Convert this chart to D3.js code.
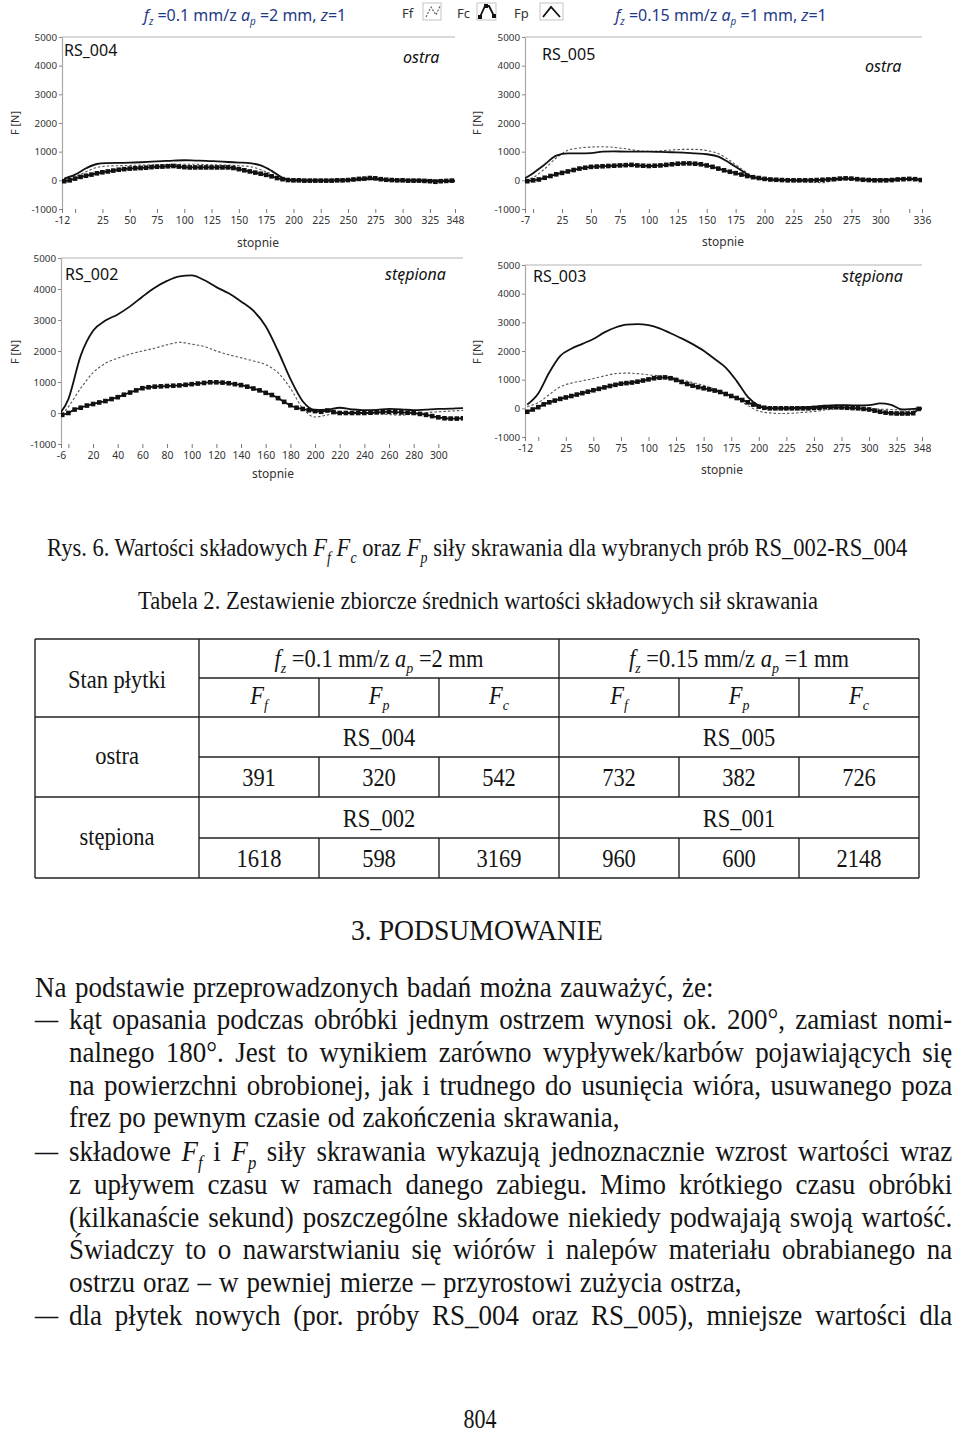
<!DOCTYPE html>
<html>
<head>
<meta charset="utf-8">
<script src="https://cdn.jsdelivr.net/npm/d3@7"></script>
<style>
  body { margin: 0; background: #fff; }
  svg { display: block; }
</style>
</head>
<body>
<div id="page"></div>
<script>
// angle grids (degrees) shared by all four plots
const DEG10 = [-10, 0, 10, 20, 30, 40, 50, 60, 70, 80, 90, 100, 110, 120, 130, 140, 150, 160, 170, 180,
  190, 200, 210, 220, 230, 240, 250, 260, 270, 280, 290, 300, 310, 320, 330, 340, 350];
const DEG5 = [-10, -5, 0, 5, 10, 15, 20, 25, 30, 35, 40, 45, 50, 55, 60, 65, 70, 75, 80, 85,
  90, 95, 100, 105, 110, 115, 120, 125, 130, 135, 140, 145, 150, 155, 160, 165, 170, 175, 180, 185,
  190, 195, 200, 205, 210, 215, 220, 225, 230, 235, 240, 245, 250, 255, 260, 265, 270, 275, 280, 285,
  290, 295, 300, 305, 310, 315, 320, 325, 330, 335, 340, 345, 350];

// RS_004 (ostra, fz 0.1)
const rs004Ff = [20, 120, 300, 450, 500, 510, 520, 530, 540, 550, 560, 560, 560, 550, 540, 530, 510, 480, 370, 220,
  50, 10, 0, 0, -10, 0, 10, 20, 40, 20, 0, 0, 0, -10, -20, -20, -10];
const rs004Fp = [60, 200, 420, 570, 600, 610, 615, 630, 650, 670, 690, 700, 690, 680, 660, 640, 620, 600, 520, 330,
  90, 0, 0, 0, 0, 0, 10, 30, 50, 30, 10, 0, 0, 0, 0, -30, -20];
const rs004Fc = [-30, 0, 60, 120, 160, 200, 245, 280, 310, 340,
  370, 390, 410, 420, 430, 440, 460, 475, 480, 490,
  500, 480, 460, 450, 450, 450, 450, 450, 450, 450,
  450, 430, 390, 350, 310, 270, 230, 190, 140, 80,
  40, 10, 0, 0, -10, -10, -10, -10, -10, -10,
  0, 0, 10, 30, 50, 60, 80, 70, 40, 20,
  10, 0, 0, -10, -10, -10, -20, -30, -50, -30,
  -20, -10, -10];

// RS_005 (ostra, fz 0.15)
const rs005Ff = [0, 100, 400, 780, 1050, 1130, 1160, 1170, 1150, 1100, 1040, 1010, 1030, 1060, 1080, 1080, 1040, 930, 690, 400,
  130, 30, 0, -10, -20, -60, -80, 0, 60, 40, 10, 0, 10, 40, 30, 10, 0];
const rs005Fp = [0, 250, 550, 860, 940, 940, 950, 1000, 1010, 1000, 1000, 1000, 990, 980, 970, 940, 910, 830, 600, 340,
  110, 40, 20, 10, 0, 0, 20, 50, 60, 40, 20, 20, 30, 50, 40, 20, 0];
const rs005Fc = [-40, -30, 0, 30, 90, 150, 210, 260, 310, 360,
  410, 440, 470, 480, 490, 500, 510, 520, 530, 540,
  520, 510, 500, 510, 520, 540, 560, 580, 590, 590,
  580, 560, 520, 470, 410, 350, 300, 250, 200, 150,
  110, 80, 50, 30, 20, 10, 0, 0, 0, 0,
  0, 10, 20, 30, 40, 60, 70, 60, 40, 20,
  10, 0, 0, 0, 10, 30, 40, 50, 40, 10,
  0, 0, 0];

// RS_002 (stępiona, fz 0.1)
const rs002Ff = [-250, 200, 800, 1300, 1600, 1770, 1900, 2000, 2090, 2200, 2280, 2220, 2150, 2000, 1880, 1780, 1680, 1560, 1300, 800,
  150, -130, -60, 20, 10, 0, -20, -50, -70, -30, 10, 40, 60, 80, 80];
const rs002Fp = [-150, 450, 1850, 2650, 2980, 3180, 3440, 3750, 4040, 4260, 4410, 4440, 4290, 4060, 3860, 3600, 3300, 2800, 2000, 1100,
  380, 100, 110, 170, 120, 90, 100, 130, 120, 90, 110, 130, 140, 160, 160];
const rs002Fc = [-150, -60, 0, 110, 170, 240, 290, 340, 385, 450,
  510, 590, 660, 730, 800, 830, 850, 860, 870, 880,
  890, 910, 930, 950, 970, 990, 990, 980, 960, 930,
  900, 850, 790, 730, 650, 580, 480, 360, 250, 170,
  130, 90, 60, 40, 80, 30, 0, 0, 0, 0,
  0, 10, 20, 30, 40, 30, 20, 10, 0, -30,
  -60, -100, -140, -170, -180, -180, -170, -170, -170];

// RS_003 (stępiona, fz 0.15)
const rs003Ff = [60, 200, 480, 750, 880, 960, 1040, 1130, 1210, 1230, 1210, 1170, 1130, 1080, 990, 900, 800, 670, 520, 330,
  100, -100, -160, -180, -170, -140, -110, -60, -20, 0, 0, -10, -30, -40, -60, -60, -40];
const rs003Fp = [130, 520, 1250, 1830, 2080, 2250, 2420, 2650, 2820, 2920, 2940, 2900, 2790, 2620, 2440, 2240, 2010, 1720, 1420, 950,
  400, 100, 10, 0, 10, 30, 60, 90, 110, 110, 100, 110, 170, 120, -40, -20, 0];
const rs003Fc = [-120, -40, 40, 140, 210, 270, 330, 380, 430, 480,
  530, 580, 630, 680, 730, 780, 820, 860, 880, 900,
  930, 970, 1010, 1050, 1070, 1080, 1050, 990, 920, 850,
  790, 740, 700, 660, 620, 570, 500, 430, 360, 290,
  210, 130, 60, 20, 0, 0, 0, 0, 0, 0,
  0, 0, 10, 20, 40, 40, 40, 30, 20, 10,
  0, -20, -40, -80, -120, -150, -170, -180, -180, -180,
  -170, -20, 0];

const yTicks = [-1000, 0, 1000, 2000, 3000, 4000, 5000];
const ticks348 = [-12, 0, 25, 50, 75, 100, 125, 150, 175, 200, 225, 250, 275, 300, 325, 348];
const ticks336 = [-7, 0, 25, 50, 75, 100, 125, 150, 175, 200, 225, 250, 275, 300, 325, 336];
const ticks320 = [-6, 0, 20, 40, 60, 80, 100, 120, 140, 160, 180, 200, 220, 240, 260, 280, 300];

// table contents
const tableGroups = ['[f,z] =0.1 mm/z [a,p] =2 mm', '[f,z] =0.15 mm/z [a,p] =1 mm'];
const tableForces = ['[F,f]', '[F,p]', '[F,c]', '[F,f]', '[F,p]', '[F,c]'];
const tableStates = ['ostra', 'stępiona'];
const tableSamples = [['RS_004', 'RS_005'], ['RS_002', 'RS_001']];
const tableValues = [[391, 320, 542, 732, 382, 726], [1618, 598, 3169, 960, 600, 2148]];

const SANS = "'Noto Sans', 'Open Sans', sans-serif";
const SERIF = "'Liberation Serif', 'Times New Roman', serif";
const INK = '#141414';
const K = 0.9; // horizontal squeeze of the serif body text

const svg = d3.select('#page').append('svg')
  .attr('width', 960)
  .attr('height', 1434)
  .attr('viewBox', '0 0 960 1434');

// text with [B,s] = italic base + italic subscript, {x} = italic
function rich(t, str, size) {
  const re = /\[([^,\]]+),([^\]]+)\]|\{([^}]+)\}/g;
  const shift = size * 0.25;
  let last = 0, cur = 0, m;
  const span = (s, italic, sub) => {
    const target = sub ? shift : 0;
    const ts = t.append('tspan').text(s);
    if (target !== cur) ts.attr('dy', target - cur);
    cur = target;
    if (italic) ts.attr('font-style', 'italic');
    if (sub) ts.attr('font-size', size * 0.62);
  };
  while ((m = re.exec(str))) {
    if (m.index > last) span(str.slice(last, m.index), false, false);
    if (m[3]) span(m[3], true, false);
    else { span(m[1], true, false); span(m[2], true, true); }
    last = re.lastIndex;
  }
  if (last < str.length) span(str.slice(last), false, false);
}

function line(x, y, str, opt) {
  const size = opt.size || 30;
  const g = svg.append('g');
  const t = g.append('text')
    .attr('font-family', opt.family || SERIF)
    .attr('font-size', size)
    .attr('fill', opt.fill || INK)
    .attr('text-anchor', opt.anchor || 'start')
    .attr('xml:space', 'preserve');
  rich(t, str, size);
  const w = t.node().getComputedTextLength();
  let k = opt.k || K;
  if (opt.mode === 'fit') k = opt.width / w;
  if (opt.mode === 'justify') {
    const n = (t.node().textContent.match(/ /g) || []).length;
    if (n) t.attr('word-spacing', (opt.width / k - w) / n);
  }
  g.attr('transform', `translate(${x},${y}) scale(${k},1)`);
  return g;
}

// ---------- four force plots ----------
const TITLE_A = '[f,z] =0.1 mm/z [a,p] =2 mm, {z}=1';
const TITLE_B = '[f,z] =0.15 mm/z [a,p] =1 mm, {z}=1';

const charts = [
  { x0: 62, x1: 455, yTop: 37, yBot: 209, domain: [-12, 348], ticks: ticks348, hide: [0],
    ff: rs004Ff, fp: rs004Fp, fc: rs004Fc, name: 'RS_004', state: 'ostra',
    nameAt: [64, 56], stateAt: [403, 63], title: TITLE_A, titleAt: [245, 21], yLab: [15, 123], xLab: [258, 247] },
  { x0: 525, x1: 922, yTop: 37, yBot: 209, domain: [-7, 336], ticks: ticks336, hide: [0, 325],
    ff: rs005Ff, fp: rs005Fp, fc: rs005Fc, name: 'RS_005', state: 'ostra',
    nameAt: [542, 60], stateAt: [865, 72], title: TITLE_B, titleAt: [721, 21], yLab: [477, 123], xLab: [723, 246] },
  { x0: 61, x1: 463, yTop: 258, yBot: 444, domain: [-6, 320], ticks: ticks320, hide: [0],
    ff: rs002Ff, fp: rs002Fp, fc: rs002Fc, name: 'RS_002', state: 'stępiona',
    nameAt: [65, 280], stateAt: [385, 280], yLab: [15, 352], xLab: [273, 478] },
  { x0: 525, x1: 922, yTop: 265, yBot: 437, domain: [-12, 348], ticks: ticks348, hide: [0],
    ff: rs003Ff, fp: rs003Fp, fc: rs003Fc, name: 'RS_003', state: 'stępiona',
    nameAt: [533, 282], stateAt: [842, 282], yLab: [477, 352], xLab: [722, 474] }
];

charts.forEach((c, i) => {
  const x = d3.scaleLinear().domain(c.domain).range([c.x0, c.x1]);
  const y = d3.scaleLinear().domain([-1000, 5000]).range([c.yBot, c.yTop]);
  const g = svg.append('g');

  g.append('clipPath').attr('id', `clip${i}`)
    .append('rect')
    .attr('x', c.x0).attr('y', c.yTop)
    .attr('width', c.x1 - c.x0).attr('height', c.yBot - c.yTop);

  // top frame line
  g.append('line')
    .attr('x1', c.x0).attr('x2', c.x1)
    .attr('y1', c.yTop).attr('y2', c.yTop)
    .attr('stroke', '#b4b4b4').attr('stroke-width', 1.2);

  const ya = g.append('g')
    .attr('transform', `translate(${c.x0},0)`)
    .call(d3.axisLeft(y).tickValues(yTicks).tickSize(3).tickSizeOuter(0).tickPadding(2).tickFormat(d => String(d)));
  ya.select('.domain').attr('stroke', '#a8a8a8').attr('stroke-width', 1.2);
  ya.selectAll('.tick line').attr('stroke', '#888');
  ya.selectAll('.tick text').attr('fill', '#333').attr('font-size', 9.8).attr('font-family', SANS);

  const xa = g.append('g')
    .attr('transform', `translate(0,${c.yBot})`)
    .call(d3.axisBottom(x).tickValues(c.ticks).tickSize(4).tickPadding(4)
      .tickFormat(d => c.hide.includes(d) ? '' : String(d)));
  xa.select('.domain').remove();
  xa.selectAll('.tick line').attr('stroke', '#777');
  xa.selectAll('.tick text').attr('fill', '#333').attr('font-size', 10.4).attr('font-family', SANS);

  const plot = g.append('g').attr('clip-path', `url(#clip${i})`);
  const path = d3.line().x(d => x(d[0])).y(d => y(d[1])).curve(d3.curveMonotoneX);

  plot.append('path')
    .datum(c.ff.map((v, j) => [DEG10[j], v]))
    .attr('d', path)
    .attr('fill', 'none').attr('stroke', '#555')
    .attr('stroke-width', 1.1).attr('stroke-dasharray', '2.5,2');

  const fcPts = c.fc.map((v, j) => [DEG5[j], v]);
  plot.append('path')
    .datum(fcPts)
    .attr('d', path)
    .attr('fill', 'none').attr('stroke', '#111').attr('stroke-width', 1.8);
  plot.selectAll('.mk')
    .data(fcPts)
    .enter().append('rect')
    .attr('class', 'mk')
    .attr('x', d => x(d[0]) - 2.3)
    .attr('y', d => y(d[1]) - 2.3)
    .attr('width', 4.6).attr('height', 4.6)
    .attr('fill', '#111');

  plot.append('path')
    .datum(c.fp.map((v, j) => [DEG10[j], v]))
    .attr('d', path)
    .attr('fill', 'none').attr('stroke', '#111').attr('stroke-width', 1.8);

  g.append('text')
    .attr('x', c.nameAt[0]).attr('y', c.nameAt[1])
    .attr('font-family', SANS).attr('font-size', 16).attr('fill', '#111')
    .text(c.name);
  g.append('text')
    .attr('x', c.stateAt[0]).attr('y', c.stateAt[1])
    .attr('font-family', SANS).attr('font-size', 16).attr('font-style', 'italic').attr('fill', '#111')
    .text(c.state);

  g.append('text')
    .attr('transform', `translate(${c.yLab[0]},${c.yLab[1]}) rotate(-90)`)
    .attr('text-anchor', 'middle').attr('dy', '0.35em')
    .attr('font-family', SANS).attr('font-size', 11).attr('fill', '#333')
    .text('F [N]');
  g.append('text')
    .attr('x', c.xLab[0]).attr('y', c.xLab[1])
    .attr('text-anchor', 'middle')
    .attr('font-family', SANS).attr('font-size', 12).attr('fill', '#333')
    .text('stopnie');

  if (c.title) {
    const t = g.append('text')
      .attr('x', c.titleAt[0]).attr('y', c.titleAt[1])
      .attr('text-anchor', 'middle')
      .attr('font-family', SANS).attr('font-size', 16).attr('fill', '#1f3a86');
    rich(t, c.title, 16);
  }
});

// legend (top middle)
const leg = svg.append('g').attr('font-family', SANS).attr('font-size', 13).attr('fill', '#333');
[['Ff', 402], ['Fc', 457], ['Fp', 514]].forEach(([s, lx]) => {
  leg.append('text').attr('x', lx).attr('y', 18).text(s);
});
[[423, 18], [477, 19], [540, 23]].forEach(([bx, bw]) => {
  leg.append('rect').attr('x', bx).attr('y', 3).attr('width', bw).attr('height', 17)
    .attr('fill', '#fff').attr('stroke', '#c4c4c4').attr('stroke-width', 1);
});
leg.append('polyline').attr('points', '426,17 431,7 436,15 440,6')
  .attr('fill', 'none').attr('stroke', '#555').attr('stroke-width', 1.1).attr('stroke-dasharray', '2,1.5');
leg.append('polyline').attr('points', '480,17 485,6 489,6 494,16')
  .attr('fill', 'none').attr('stroke', '#111').attr('stroke-width', 1.8);
[[480, 17], [486, 6], [494, 16]].forEach(([px, py]) => {
  leg.append('rect').attr('x', px - 2).attr('y', py - 2).attr('width', 4).attr('height', 4).attr('fill', '#111');
});
leg.append('polyline').attr('points', '543,17 551,7 560,17')
  .attr('fill', 'none').attr('stroke', '#111').attr('stroke-width', 1.8);

// ---------- caption ----------
line(47, 556, 'Rys. 6. Wartości składowych [F,f] [F,c] oraz [F,p] siły skrawania dla wybranych prób RS_002-RS_004',
  { size: 26, mode: 'fit', width: 861 });
line(138, 609, 'Tabela 2. Zestawienie zbiorcze średnich wartości składowych sił skrawania',
  { size: 26, mode: 'fit', width: 680 });

// ---------- table ----------
const colX = [35, 199, 319, 439, 559, 679, 799, 919];
const rowY = [639, 678, 717, 757, 797, 838, 878];
const tb = svg.append('g').attr('stroke', '#222').attr('stroke-width', 1.4);
const hl = (yy, xa, xb) => tb.append('line').attr('x1', xa).attr('x2', xb).attr('y1', yy).attr('y2', yy);
const vl = (xx, ya, yb) => tb.append('line').attr('x1', xx).attr('x2', xx).attr('y1', ya).attr('y2', yb);
[0, 2, 4, 6].forEach(r => hl(rowY[r], colX[0], colX[7]));
[1, 3, 5].forEach(r => hl(rowY[r], colX[1], colX[7]));
[0, 1, 4, 7].forEach(ci => vl(colX[ci], rowY[0], rowY[6]));
[2, 3, 5, 6].forEach(ci => {
  vl(colX[ci], rowY[1], rowY[2]);
  vl(colX[ci], rowY[3], rowY[4]);
  vl(colX[ci], rowY[5], rowY[6]);
});

const TS = 25;
line(117, 688, 'Stan płytki', { size: TS, anchor: 'middle' });
tableGroups.forEach((s, gi) => line((colX[1 + gi * 3] + colX[4 + gi * 3]) / 2, 667, s, { size: TS, anchor: 'middle' }));
tableForces.forEach((s, ci) => line((colX[1 + ci] + colX[2 + ci]) / 2, 704, s, { size: TS, anchor: 'middle' }));
tableStates.forEach((s, si) => line(117, [764, 845][si], s, { size: TS, anchor: 'middle' }));
tableSamples.forEach((pair, si) => {
  pair.forEach((s, gi) => line((colX[1 + gi * 3] + colX[4 + gi * 3]) / 2, [746, 827][si], s, { size: TS, anchor: 'middle' }));
});
tableValues.forEach((vals, si) => {
  vals.forEach((v, ci) => line((colX[1 + ci] + colX[2 + ci]) / 2, [786, 867][si], String(v), { size: TS, anchor: 'middle' }));
});

// ---------- summary text ----------
line(351, 940, '3. PODSUMOWANIE', { size: 30, mode: 'fit', width: 252 });

const body = [
  [35, 997, 'Na podstawie przeprowadzonych badań można zauważyć, że:', 679],
  [69, 1029, 'kąt opasania podczas obróbki jednym ostrzem wynosi ok. 200°, zamiast nomi-', 884],
  [69, 1062, 'nalnego 180°. Jest to wynikiem zarówno wypływek/karbów pojawiających się', 884],
  [69, 1095, 'na powierzchni obrobionej, jak i trudnego do usunięcia wióra, usuwanego poza', 884],
  [69, 1127, 'frez po pewnym czasie od zakończenia skrawania,', 551],
  [69, 1161, 'składowe [F,f] i [F,p] siły skrawania wykazują jednoznacznie wzrost wartości wraz', 884],
  [69, 1194, 'z upływem czasu w ramach danego zabiegu. Mimo krótkiego czasu obróbki', 884],
  [69, 1227, '(kilkanaście sekund) poszczególne składowe niekiedy podwajają swoją wartość.', 884],
  [69, 1259, 'Świadczy to o nawarstwianiu się wiórów i nalepów materiału obrabianego na', 884],
  [69, 1292, 'ostrzu oraz – w pewniej mierze – przyrostowi zużycia ostrza,', 673],
  [69, 1325, 'dla płytek nowych (por. próby RS_004 oraz RS_005), mniejsze wartości dla', 884]
];
body.forEach(([bx, by, s, w]) => line(bx, by, s, { size: 30, mode: 'justify', width: w }));
[1029, 1161, 1325].forEach(by => line(35, by, '–', { size: 30, mode: 'fit', width: 23 }));

line(480, 1428, '804', { size: 27, anchor: 'middle', mode: 'fit', width: 33 });
</script>
</body>
</html>
